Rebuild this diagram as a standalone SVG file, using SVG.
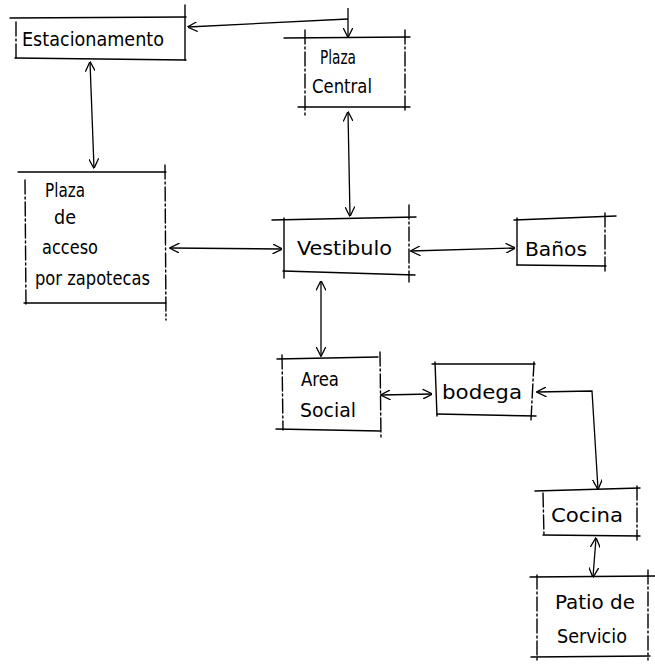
<svg xmlns="http://www.w3.org/2000/svg" width="655" height="667" viewBox="0 0 655 667">
  <defs>
    <marker id="arrow" viewBox="0 0 10 10" refX="9.5" refY="5" markerWidth="10" markerHeight="10" markerUnits="userSpaceOnUse" orient="auto-start-reverse">
      <path d="M0,0 L10,5 L0,10" fill="none" stroke="#000" stroke-width="1.3"/>
    </marker>
  </defs>
  <style>
    .frame line { stroke: #000; stroke-width: 1.4; fill: none; stroke-linecap: round; }
    .dash { stroke-dasharray: 14 3 2 3; }
    .label { font-family: "Liberation Sans Narrow", "DejaVu Sans Condensed", "Liberation Sans", sans-serif; font-size: 19px; fill: #000; }
    .conn path { stroke: #000; stroke-width: 1.3; fill: none; marker-start: url(#arrow); marker-end: url(#arrow); }
    .conn path.start { marker-end: none; }
    .conn path.end { marker-start: none; }
    .conn path.bare { marker-start: none; marker-end: none; }
  </style>
  <rect width="655" height="667" fill="#fff"/>

  <!-- Estacionamento -->
  <g id="estacionamento" class="frame">
    <line x1="10" y1="18" x2="186" y2="17"/>
    <line x1="16" y1="22" x2="16" y2="58" class="dash"/>
    <line x1="185" y1="5" x2="185" y2="60"/>
    <line x1="15" y1="58" x2="186" y2="60"/>
    <text class="label" x="22" y="46" textLength="142" lengthAdjust="spacingAndGlyphs">Estacionamento</text>
  </g>

  <!-- Plaza Central -->
  <g id="plaza-central" class="frame">
    <line x1="284" y1="38" x2="410" y2="37"/>
    <line x1="305" y1="30" x2="305" y2="115" class="dash"/>
    <line x1="405" y1="30" x2="405" y2="110" class="dash"/>
    <line x1="298" y1="107" x2="410" y2="107"/>
    <text class="label" x="320" y="64" textLength="36" lengthAdjust="spacingAndGlyphs">Plaza</text>
    <text class="label" x="312" y="93" textLength="60" lengthAdjust="spacingAndGlyphs">Central</text>
  </g>

  <!-- Plaza de acceso por zapotecas -->
  <g id="plaza-acceso" class="frame">
    <line x1="18" y1="172" x2="166" y2="172"/>
    <line x1="25" y1="180" x2="26" y2="305" class="dash"/>
    <line x1="165" y1="165" x2="166" y2="320" class="dash"/>
    <line x1="24" y1="303" x2="166" y2="303"/>
    <text class="label" x="45" y="197" textLength="40" lengthAdjust="spacingAndGlyphs">Plaza</text>
    <text class="label" x="54" y="224" textLength="22" lengthAdjust="spacingAndGlyphs">de</text>
    <text class="label" x="42" y="254" textLength="56" lengthAdjust="spacingAndGlyphs">acceso</text>
    <text class="label" x="35" y="285" textLength="115" lengthAdjust="spacingAndGlyphs">por zapotecas</text>
  </g>

  <!-- Vestibulo -->
  <g id="vestibulo" class="frame">
    <line x1="272" y1="220" x2="416" y2="217"/>
    <line x1="284" y1="218" x2="284" y2="278"/>
    <line x1="409" y1="205" x2="409" y2="282" class="dash"/>
    <line x1="283" y1="271" x2="415" y2="275"/>
    <text class="label" x="297" y="255" textLength="95" lengthAdjust="spacingAndGlyphs">Vestibulo</text>
  </g>

  <!-- Baños -->
  <g id="banos" class="frame">
    <line x1="514" y1="220" x2="616" y2="216"/>
    <line x1="517" y1="218" x2="517" y2="265"/>
    <line x1="605" y1="213" x2="605" y2="272" class="dash"/>
    <line x1="517" y1="265" x2="606" y2="266"/>
    <text class="label" x="525" y="256" textLength="62" lengthAdjust="spacingAndGlyphs">Baños</text>
  </g>

  <!-- Area Social -->
  <g id="area-social" class="frame">
    <line x1="277" y1="359" x2="378" y2="357"/>
    <line x1="282" y1="355" x2="283" y2="430" class="dash"/>
    <line x1="380" y1="352" x2="381" y2="438" class="dash"/>
    <line x1="276" y1="429" x2="380" y2="431"/>
    <text class="label" x="301" y="386" textLength="38" lengthAdjust="spacingAndGlyphs">Area</text>
    <text class="label" x="300" y="417" textLength="56" lengthAdjust="spacingAndGlyphs">Social</text>
  </g>

  <!-- bodega -->
  <g id="bodega" class="frame">
    <line x1="432" y1="364" x2="535" y2="364"/>
    <line x1="435" y1="362" x2="437" y2="416"/>
    <line x1="534" y1="362" x2="531" y2="420" class="dash"/>
    <line x1="437" y1="414" x2="536" y2="416"/>
    <text class="label" x="442" y="399" textLength="80" lengthAdjust="spacingAndGlyphs">bodega</text>
  </g>

  <!-- Cocina -->
  <g id="cocina" class="frame">
    <line x1="535" y1="491" x2="640" y2="488"/>
    <line x1="543" y1="493" x2="544" y2="536" class="dash"/>
    <line x1="637" y1="486" x2="637" y2="540" class="dash"/>
    <line x1="543" y1="535" x2="640" y2="536"/>
    <text class="label" x="551" y="522" textLength="72" lengthAdjust="spacingAndGlyphs">Cocina</text>
  </g>

  <!-- Patio de Servicio -->
  <g id="patio-servicio" class="frame">
    <line x1="530" y1="577" x2="655" y2="576"/>
    <line x1="537" y1="575" x2="537" y2="660" class="dash"/>
    <line x1="648" y1="570" x2="648" y2="660" class="dash"/>
    <line x1="531" y1="657" x2="650" y2="656"/>
    <text class="label" x="555" y="609" textLength="80" lengthAdjust="spacingAndGlyphs">Patio de</text>
    <text class="label" x="557" y="643" textLength="70" lengthAdjust="spacingAndGlyphs">Servicio</text>
  </g>

  <!-- Connectors -->
  <g id="connectors" class="conn">
    <!-- Estacionamento - Plaza Central -->
    <path d="M348,8 L348,20" class="bare"/>
    <path d="M348,19 L188,27" class="end"/>
    <path d="M348,20 L348,37" class="end"/>
    <!-- Estacionamento - Plaza de acceso -->
    <path d="M90,62 L94,168"/>
    <!-- Plaza Central - Vestibulo -->
    <path d="M348,112 L350,216"/>
    <!-- Plaza de acceso - Vestibulo -->
    <path d="M170,248 L282,249"/>
    <!-- Vestibulo - Baños -->
    <path d="M411,251 L515,248"/>
    <!-- Vestibulo - Area Social -->
    <path d="M321,281 L321,356"/>
    <!-- Area Social - bodega -->
    <path d="M381,395 L432,394"/>
    <!-- bodega - Cocina -->
    <path d="M537,392 L592,391 L598,489"/>
    <!-- Cocina - Patio de Servicio -->
    <path d="M596,538 L593,577"/>
  </g>
</svg>
